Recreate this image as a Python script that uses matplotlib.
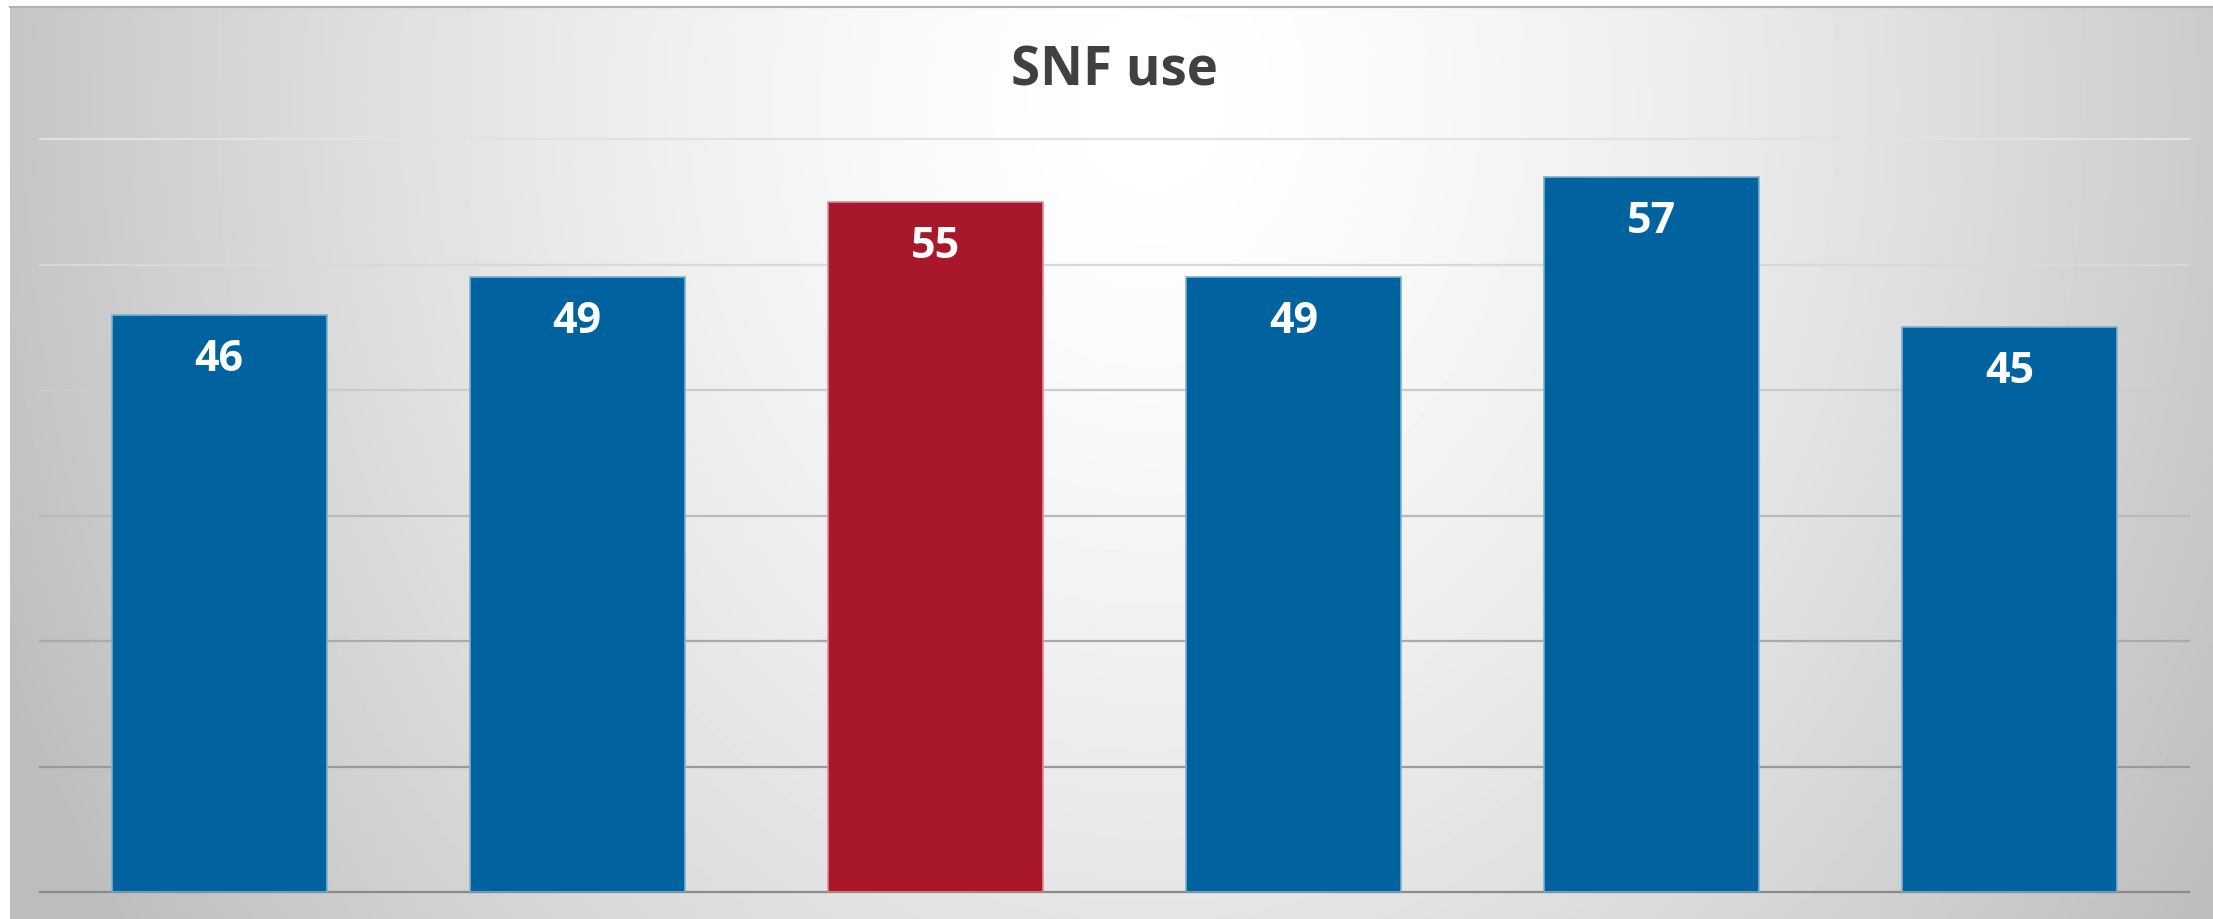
import numpy as np
import matplotlib.pyplot as plt

# data
categories = ['A', 'B', 'C', 'D', 'E', 'F']
values = [46, 49, 55, 49, 57, 45]
highlight = 2
grid_levels = [0, 10, 20, 30, 40, 50, 60]
grid_colors = ['#8a8a8a', '#9a9a9a', '#aaaaaa', '#bababa', '#cbcbcb', '#d9d9d9', '#e2e2e2']

W, H = 2213, 919
fig = plt.figure(figsize=(W / 100, H / 100), dpi=100)
fig.patch.set_facecolor('white')

# radial-ish gradient background of the chart area
bg = fig.add_axes([10 / W, 0, 1 - 10 / W, (H - 7) / H])
yy, xx = np.mgrid[7:H, 10:W]
r = np.sqrt(((xx - 1150) / 1250.0) ** 2 + ((yy - 100) / 1500.0) ** 2)
v = 1 - 0.26 * np.clip(r, 0, 1) ** 1.5
bg.imshow(v, cmap='gray', vmin=0, vmax=1, aspect='auto', interpolation='bilinear')
bg.axis('off')
fig.add_artist(plt.Line2D([10 / W, 1], [(H - 7) / H] * 2, color='#b0b0b0', lw=1.5))

# plot area
top_px, base_px, left_px, right_px = 139, 892, 40, 2189
ax = fig.add_axes([left_px / W, (H - base_px) / H,
                   (right_px - left_px) / W, (base_px - top_px) / H])
ax.set_facecolor('none')
ax.set_xlim(-0.5, len(categories) - 0.5)
ax.set_ylim(0, 60)
for lvl, c in zip(grid_levels, grid_colors):
    ax.axhline(lvl, color=c, lw=1.6, zorder=1, clip_on=False)

colors = ['#a8182a' if i == highlight else '#0063a0' for i in range(len(values))]
edges = ['#e08a96' if i == highlight else '#7fb0d0' for i in range(len(values))]
x = np.arange(len(categories))
bars = ax.bar(x, values, width=0.6, color=colors, edgecolor=edges, linewidth=1.2, zorder=2)

for b, val in zip(bars, values):
    ax.annotate(str(val), (b.get_x() + b.get_width() / 2, val), xytext=(0, -32),
                textcoords='offset points', ha='center', va='center',
                color='white', fontsize=31, fontweight='bold', family='Open Sans', zorder=3)

for s in ax.spines.values():
    s.set_visible(False)
ax.set_xticks([])
ax.set_yticks([])

fig.text((1012 + 1216) / 2 / W, 1 - 72 / H, 'SNF use', ha='center', va='center',
         fontsize=38, fontweight='bold', family='Open Sans', color='#404040')

fig.savefig('out.png', dpi=100)
